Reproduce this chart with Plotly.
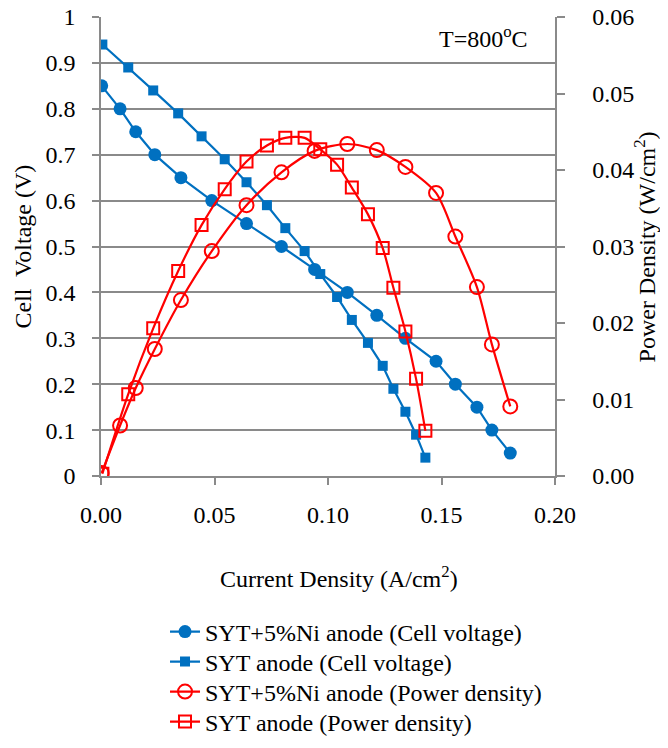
import plotly.graph_objects as go

# Data
current_ni = [0.0003, 0.0084, 0.0153, 0.0237, 0.0352, 0.0488, 0.0641, 0.0795, 0.0941,
              0.1085, 0.1215, 0.1341, 0.1476, 0.1561, 0.1656, 0.1722, 0.1803]
voltage_ni = [0.85, 0.80, 0.75, 0.70, 0.65, 0.60, 0.55, 0.50, 0.45,
              0.40, 0.35, 0.30, 0.25, 0.20, 0.15, 0.10, 0.05]
power_ni = [0.0004, 0.0066, 0.0115, 0.0166, 0.0230, 0.0294, 0.0354, 0.0397, 0.0425,
            0.0434, 0.0426, 0.0404, 0.0370, 0.0313, 0.0247, 0.0172, 0.0091]

current_syt = [0.0006, 0.0120, 0.0230, 0.0340, 0.0443, 0.0545, 0.0641, 0.0731, 0.0812, 0.0897,
               0.0966, 0.1040, 0.1105, 0.1176, 0.1241, 0.1288, 0.1341, 0.1388, 0.1429]
voltage_syt = [0.94, 0.89, 0.84, 0.79, 0.74, 0.69, 0.64, 0.59, 0.54, 0.49,
               0.44, 0.39, 0.34, 0.29, 0.24, 0.19, 0.14, 0.09, 0.04]
power_syt = [0.0003, 0.0107, 0.0193, 0.0268, 0.0328, 0.0375, 0.0411, 0.0432, 0.0442, 0.0442,
             0.0427, 0.0407, 0.0377, 0.0342, 0.0298, 0.0246, 0.0189, 0.0127, 0.0059]

names = ["SYT+5%Ni anode (Cell voltage)", "SYT anode (Cell voltage)",
         "SYT+5%Ni anode (Power density)", "SYT anode (Power density)"]

BLUE = "#0070C0"
RED = "#FF0000"
GRID = "#8A8A8A"
FONT = "Liberation Serif"
FS = 24

fig = go.Figure()
fig.add_trace(go.Scatter(x=current_ni, y=voltage_ni, name=names[0], mode="lines+markers",
                         legend="legend",
                         line=dict(color=BLUE, width=2.2),
                         marker=dict(symbol="circle", size=13, color=BLUE)))
fig.add_trace(go.Scatter(x=current_syt, y=voltage_syt, name=names[1], mode="lines+markers",
                         legend="legend2",
                         line=dict(color=BLUE, width=2.2),
                         marker=dict(symbol="square", size=10, color=BLUE)))
fig.add_trace(go.Scatter(x=current_ni, y=power_ni, name=names[2], mode="lines+markers",
                         legend="legend3",
                         yaxis="y2", line=dict(color=RED, width=2.2, shape="spline", smoothing=0.8),
                         marker=dict(symbol="circle-open", size=14, color=RED,
                                     line=dict(color=RED, width=2))))
fig.add_trace(go.Scatter(x=current_syt, y=power_syt, name=names[3], mode="lines+markers",
                         legend="legend4",
                         yaxis="y2", line=dict(color=RED, width=2.2, shape="spline", smoothing=0.8),
                         marker=dict(symbol="square-open", size=12, color=RED,
                                     line=dict(color=RED, width=2))))

def leg(ypix):
    return dict(x=0.141, y=(476 - ypix) / 459, xanchor="left", yanchor="middle",
                font=dict(family=FONT, size=FS, color="black"),
                bgcolor="rgba(0,0,0,0)", borderwidth=0)

fig.update_layout(
    template="none",
    width=652, height=732,
    margin=dict(l=93, r=105, t=9, b=264, autoexpand=False),
    paper_bgcolor="white", plot_bgcolor="white",
    font=dict(family=FONT, size=FS, color="black"),
    xaxis=dict(range=[0, 0.2], dtick=0.05, tick0=0, tickformat=".2f", automargin=False,
               showgrid=False, zeroline=False, showline=True, linecolor=GRID, linewidth=1.5,
               ticks="outside", ticklen=7, tickcolor=GRID, tickwidth=1.5,
               ticklabelstandoff=9, tickfont=dict(family=FONT, size=FS)),
    yaxis=dict(range=[0, 1], dtick=0.1, tick0=0, automargin=False, ticklabeloverflow="allow",
               showgrid=True, gridcolor=GRID, gridwidth=1.5, zeroline=False,
               showline=True, linecolor=GRID, linewidth=1.5,
               ticks="outside", ticklen=7, tickcolor=GRID, tickwidth=1.5,
               ticklabelstandoff=12, tickfont=dict(family=FONT, size=FS)),
    yaxis2=dict(range=[0, 0.06], dtick=0.01, tick0=0, tickformat=".2f", automargin=False,
                ticklabeloverflow="allow", tickprefix="\u00a0\u00a0\u00a0\u2009",
                overlaying="y", side="right", showgrid=False, zeroline=False,
                showline=True, linecolor=GRID, linewidth=1.5,
                ticks="outside", ticklen=8, tickcolor=GRID, tickwidth=1.5,
                tickfont=dict(family=FONT, size=FS)),
    showlegend=True,
    legend=leg(632), legend2=leg(662), legend3=leg(692), legend4=leg(722),
    annotations=[
        dict(text="Current Density (A/cm<sup>2</sup>)", xref="paper", yref="paper",
             x=0.525, y=-0.219, xanchor="center", yanchor="middle", showarrow=False,
             font=dict(family=FONT, size=FS)),
        dict(text="Cell  Voltage (V)", xref="paper", yref="paper", textangle=-90,
             x=-0.174, y=0.5, xanchor="center", yanchor="middle", showarrow=False,
             font=dict(family=FONT, size=FS)),
        dict(text="Power Density (W/cm<sup>2</sup>)", xref="paper", yref="paper", textangle=-90,
             x=1.198, y=0.5, xanchor="center", yanchor="middle", showarrow=False,
             font=dict(family=FONT, size=FS)),
        dict(text="T=800<sup>o</sup>C", xref="paper", yref="paper",
             x=0.945, y=0.956, xanchor="right", yanchor="middle", showarrow=False,
             font=dict(family=FONT, size=FS)),
    ],
)

fig.write_html("out.html")
